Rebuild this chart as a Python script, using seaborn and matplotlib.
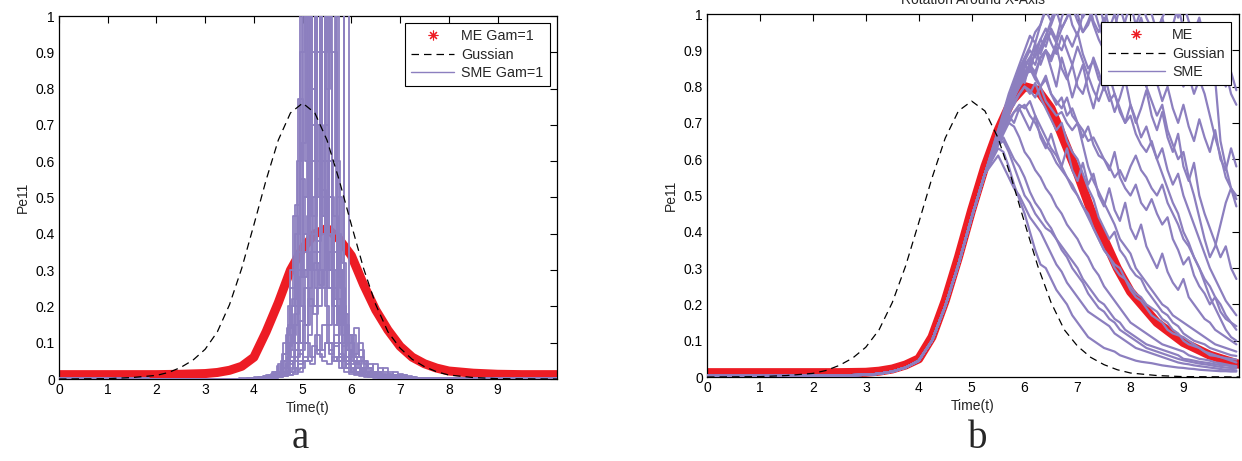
import numpy as np
import matplotlib
matplotlib.use('Agg')
import matplotlib.pyplot as plt
from matplotlib.lines import Line2D
import seaborn as sns

# ---------------- data ----------------
# ME curve (red band)
t_me_left = [0, 1, 2, 2.5, 3, 3.25, 3.5, 3.75, 4, 4.25, 4.5, 4.75, 5, 5.25, 5.5, 5.75, 6,
             6.25, 6.5, 6.75, 7, 7.25, 7.5, 7.75, 8, 8.5, 9, 9.5, 10.22]
me_left = [0.012, 0.012, 0.012, 0.013, 0.015, 0.018, 0.024, 0.035, 0.06, 0.13, 0.21, 0.30, 0.36,
           0.40, 0.415, 0.385, 0.34, 0.26, 0.19, 0.135, 0.09, 0.06, 0.042, 0.03, 0.022, 0.016,
           0.013, 0.012, 0.012]
t_me_right = [0, 1, 2, 2.5, 3, 3.25, 3.5, 3.75, 4, 4.25, 4.5, 4.75, 5, 5.25, 5.5, 5.75, 6,
              6.25, 6.5, 6.75, 7, 7.25, 7.5, 7.75, 8, 8.5, 9, 9.5, 10.05]
me_right = [0.012, 0.012, 0.012, 0.012, 0.013, 0.016, 0.022, 0.033, 0.05, 0.11, 0.21, 0.33, 0.46,
            0.58, 0.68, 0.76, 0.80, 0.79, 0.74, 0.65, 0.56, 0.46, 0.38, 0.30, 0.235, 0.15,
            0.095, 0.06, 0.035]

# Gaussian reference (dashed)
t_gauss = [0, 1, 1.5, 2, 2.25, 2.5, 2.75, 3, 3.25, 3.5, 3.75, 4, 4.25, 4.5, 4.75, 5, 5.25, 5.5,
           5.75, 6, 6.25, 6.5, 6.75, 7, 7.25, 7.5, 7.75, 8, 8.5, 9, 10.22]
gauss = [0, 0.001, 0.004, 0.01, 0.018, 0.032, 0.052, 0.082, 0.13, 0.205, 0.305, 0.425, 0.548,
         0.658, 0.733, 0.76, 0.733, 0.658, 0.548, 0.425, 0.305, 0.205, 0.13, 0.085, 0.054,
         0.034, 0.02, 0.011, 0.004, 0.001, 0]

# SME runs, left panel: 40 samples 0.1 apart, starting at sme_left_t0
sme_left_t0 = [3.6, 3.65, 3.6, 3.65, 3.6, 3.65, 3.6, 3.65, 3.6, 3.65,
               3.6, 3.65, 3.6, 3.65, 3.63, 3.67, 3.62, 3.68, 3.64, 3.66]
sme_left = [
    [0, 0, 0, 0.002, 0.003, 0.004, 0.006, 0.008, 0.012, 0.02,
     0.05, 0.12, 0.25, 0.48, 1.3, 0.6, 1.4, 0.35, 0.9, 0.2,
     0.1, 0.05, 0.03, 0.02, 0.015, 0.01, 0.008, 0.006, 0.005, 0.004,
     0.004, 0.003, 0.003, 0.002, 0.002, 0.002, 0.002, 0.002, 0.002, 0.002],
    [0, 0, 0, 0, 0.002, 0.003, 0.004, 0.005, 0.007, 0.012,
     0.03, 0.08, 0.15, 0.77, 0.3, 1.5, 0.45, 1.2, 0.5, 0.25,
     0.6, 0.15, 0.06, 0.03, 0.02, 0.015, 0.01, 0.008, 0.006, 0.005,
     0.004, 0.004, 0.003, 0.003, 0.002, 0.002, 0.002, 0.002, 0.002, 0.002],
    [0, 0, 0, 0, 0, 0.002, 0.003, 0.004, 0.006, 0.01,
     0.02, 0.05, 0.3, 0.2, 0.55, 0.4, 0.8, 1.6, 0.3, 1.2,
     0.4, 0.2, 0.1, 0.05, 0.03, 0.02, 0.015, 0.01, 0.008, 0.006,
     0.005, 0.004, 0.003, 0.003, 0.002, 0.002, 0.002, 0.002, 0.002, 0.002],
    [0, 0, 0, 0.002, 0.003, 0.005, 0.007, 0.01, 0.02, 0.04,
     0.1, 0.2, 0.45, 0.3, 0.35, 0.5, 0.3, 0.55, 0.45, 0.3,
     0.35, 0.5, 0.32, 0.1, 0.12, 0.06, 0.03, 0.02, 0.015, 0.01,
     0.008, 0.006, 0.005, 0.004, 0.003, 0.003, 0.002, 0.002, 0.002, 0.002],
    [0, 0, 0, 0, 0, 0, 0.002, 0.003, 0.004, 0.006,
     0.01, 0.015, 0.02, 0.1, 0.2, 0.15, 0.35, 0.25, 1.5, 0.35,
     0.25, 0.1, 1.3, 0.15, 0.08, 0.14, 0.06, 0.04, 0.03, 0.02,
     0.015, 0.01, 0.008, 0.006, 0.005, 0.004, 0.003, 0.002, 0.002, 0.002],
    [0, 0, 0, 0, 0, 0, 0, 0.002, 0.003, 0.005,
     0.008, 0.01, 0.015, 0.02, 0.1, 0.3, 0.2, 0.25, 0.6, 0.15,
     1.4, 0.3, 0.2, 0.08, 0.05, 0.04, 0.03, 0.02, 0.015, 0.01,
     0.008, 0.006, 0.005, 0.004, 0.003, 0.003, 0.002, 0.002, 0.002, 0.002],
    [0, 0, 0, 0, 0.002, 0.003, 0.005, 0.01, 0.015, 0.02,
     0.03, 0.04, 0.05, 0.06, 0.08, 0.1, 0.06, 0.12, 0.08, 0.1,
     0.07, 0.09, 0.06, 0.05, 0.07, 0.04, 0.05, 0.03, 0.04, 0.02,
     0.03, 0.02, 0.015, 0.02, 0.01, 0.012, 0.008, 0.006, 0.004, 0.003],
    [0, 0, 0, 0, 0, 0.002, 0.004, 0.006, 0.01, 0.015,
     0.02, 0.05, 0.03, 0.07, 0.05, 0.12, 0.2, 0.08, 0.15, 0.1,
     0.05, 0.06, 0.03, 0.04, 0.02, 0.03, 0.025, 0.02, 0.018, 0.02,
     0.015, 0.012, 0.01, 0.012, 0.008, 0.006, 0.005, 0.004, 0.003, 0.002],
    [0, 0, 0, 0, 0, 0, 0, 0.002, 0.004, 0.006,
     0.01, 0.015, 0.02, 0.025, 0.03, 0.05, 0.04, 0.08, 0.06, 0.1,
     0.08, 0.12, 0.07, 0.05, 0.1, 0.06, 0.08, 0.05, 0.03, 0.04,
     0.02, 0.03, 0.02, 0.01, 0.015, 0.01, 0.005, 0.004, 0.003, 0.002],
    [0, 0, 0, 0, 0.002, 0.004, 0.006, 0.01, 0.015, 0.03,
     0.07, 0.15, 0.1, 0.3, 1.2, 0.25, 0.4, 0.2, 0.3, 0.5,
     0.25, 0.18, 0.05, 0.04, 0.03, 0.02, 0.015, 0.01, 0.008, 0.006,
     0.005, 0.004, 0.003, 0.003, 0.002, 0.002, 0.002, 0.002, 0.002, 0.002],
    [0, 0, 0, 0, 0, 0, 0.002, 0.003, 0.005, 0.008,
     0.012, 0.02, 0.06, 0.15, 0.1, 0.3, 1.3, 0.6, 0.4, 0.7,
     0.3, 0.15, 0.1, 1.2, 0.1, 0.05, 0.03, 0.02, 0.015, 0.01,
     0.008, 0.006, 0.005, 0.004, 0.003, 0.002, 0.002, 0.002, 0.002, 0.002],
    [0, 0.002, 0.003, 0.004, 0.005, 0.006, 0.008, 0.01, 0.012, 0.015,
     0.02, 0.025, 0.03, 0.04, 0.06, 0.05, 0.09, 0.07, 0.05, 0.04,
     0.06, 0.05, 0.03, 0.04, 0.025, 0.03, 0.02, 0.025, 0.015, 0.02,
     0.012, 0.015, 0.01, 0.008, 0.01, 0.006, 0.005, 0.004, 0.003, 0.002],
    [0, 0, 0, 0, 0, 0.002, 0.003, 0.005, 0.008, 0.012,
     0.02, 0.04, 0.1, 0.4, 0.9, 1.3, 0.7, 1.1, 0.6, 1.3,
     0.5, 0.2, 0.05, 0.03, 0.02, 0.015, 0.01, 0.008, 0.006, 0.005,
     0.004, 0.003, 0.003, 0.002, 0.002, 0.002, 0.002, 0.002, 0.002, 0.002],
    [0, 0, 0, 0, 0, 0, 0, 0.002, 0.003, 0.005,
     0.008, 0.012, 0.02, 0.05, 0.5, 0.8, 1.2, 0.9, 1.4, 0.6,
     0.9, 0.3, 0.1, 0.03, 0.02, 0.015, 0.01, 0.008, 0.006, 0.005,
     0.004, 0.003, 0.003, 0.002, 0.002, 0.002, 0.002, 0.002, 0.002, 0.002],
    [0, 0, 0, 0.002, 0.003, 0.005, 0.008, 0.012, 0.02, 0.035,
     0.07, 0.14, 0.22, 0.35, 0.28, 0.45, 0.6, 0.38, 0.52, 0.4,
     0.3, 0.22, 0.12, 0.06, 0.04, 0.03, 0.02, 0.012, 0.008, 0.006,
     0.005, 0.004, 0.003, 0.003, 0.002, 0.002, 0.002, 0.002, 0.002, 0.002],
    [0, 0, 0, 0, 0.002, 0.003, 0.005, 0.008, 0.012, 0.02,
     0.05, 0.1, 0.18, 0.28, 0.4, 0.3, 0.5, 0.7, 0.45, 0.6,
     0.45, 0.28, 0.15, 0.08, 0.05, 0.03, 0.02, 0.015, 0.01, 0.008,
     0.006, 0.005, 0.004, 0.003, 0.002, 0.002, 0.002, 0.002, 0.002, 0.002],
    [0, 0, 0, 0, 0, 0.002, 0.003, 0.005, 0.008, 0.015,
     0.03, 0.06, 0.12, 0.2, 0.65, 1.3, 0.9, 0.5, 1.2, 0.8,
     1.3, 0.6, 0.25, 0.1, 0.05, 0.03, 0.02, 0.012, 0.008, 0.006,
     0.005, 0.004, 0.003, 0.003, 0.002, 0.002, 0.002, 0.002, 0.002, 0.002],
    [0, 0, 0, 0, 0, 0, 0.002, 0.004, 0.006, 0.01,
     0.02, 0.04, 0.08, 0.16, 0.25, 0.2, 0.32, 0.26, 0.4, 0.3,
     0.22, 0.3, 0.18, 0.12, 0.07, 0.1, 0.05, 0.03, 0.02, 0.015,
     0.01, 0.008, 0.006, 0.004, 0.003, 0.002, 0.002, 0.002, 0.002, 0.002],
    [0, 0, 0, 0, 0.002, 0.003, 0.005, 0.008, 0.012, 0.025,
     0.05, 0.09, 0.2, 0.6, 1.4, 0.5, 1.1, 0.7, 1.3, 0.9,
     1.2, 0.4, 0.15, 0.06, 0.03, 0.02, 0.015, 0.01, 0.008, 0.006,
     0.005, 0.004, 0.003, 0.003, 0.002, 0.002, 0.002, 0.002, 0.002, 0.002],
    [0, 0, 0, 0, 0, 0.002, 0.003, 0.004, 0.006, 0.01,
     0.015, 0.03, 0.05, 0.1, 0.15, 0.22, 0.18, 0.3, 0.25, 0.35,
     0.2, 0.15, 0.09, 0.12, 0.06, 0.04, 0.05, 0.02, 0.015, 0.01,
     0.008, 0.006, 0.005, 0.004, 0.003, 0.002, 0.002, 0.002, 0.002, 0.002],
]

# SME runs, right panel: common rise, then one tail per run sampled at 5.5, 5.6, ... 10.0
t_sme_rise = [0, 1, 2, 3, 3.25, 3.5, 3.75, 4, 4.25, 4.5, 4.75, 5, 5.25]
sme_rise = [0.003, 0.003, 0.003, 0.006, 0.009, 0.015, 0.026, 0.045, 0.1, 0.195, 0.31, 0.44, 0.56]
sme_right = [
    [0.68, 0.72, 0.77, 0.80, 0.85, 0.88, 0.91, 0.95, 0.97, 1.02,
     1.05, 1.03, 1.08, 1.10, 1.06, 1.12, 1.10, 1.15, 1.08, 1.04,
     0.97, 1.03, 1.08, 1.12, 1.06, 1.10, 1.14, 1.08, 1.12, 1.16,
     1.10, 1.15, 1.20, 1.12, 1.18, 1.15, 1.20, 1.22, 1.18, 1.25,
     1.20, 1.22, 1.28, 1.24, 1.30, 1.26],
    [0.67, 0.71, 0.74, 0.79, 0.82, 0.86, 0.84, 0.90, 0.93, 0.91,
     0.96, 0.93, 0.99, 1.03, 0.97, 0.94, 1.00, 1.04, 0.98, 0.95,
     0.99, 0.93, 0.96, 1.02, 0.97, 0.92, 0.95, 0.99, 0.94, 0.90,
     0.93, 0.97, 0.91, 0.88, 0.94, 0.90, 0.85, 0.89, 0.82, 0.78,
     0.72, 0.66, 0.61, 0.55, 0.52, 0.49],
    [0.66, 0.70, 0.73, 0.77, 0.81, 0.84, 0.86, 0.83, 0.88, 0.90,
     0.87, 0.91, 0.85, 0.82, 0.86, 0.80, 0.78, 0.83, 0.79, 0.76,
     0.80, 0.84, 0.88, 0.85, 0.90, 0.87, 0.83, 0.86, 0.80, 0.76,
     0.72, 0.75, 0.68, 0.64, 0.60, 0.62, 0.55, 0.50, 0.44, 0.38,
     0.33, 0.36, 0.42, 0.48, 0.52, 0.47],
    [0.66, 0.70, 0.74, 0.77, 0.80, 0.83, 0.85, 0.82, 0.80, 0.83,
     0.78, 0.75, 0.77, 0.72, 0.74, 0.70, 0.66, 0.69, 0.64, 0.61,
     0.60, 0.57, 0.62, 0.55, 0.52, 0.50, 0.53, 0.48, 0.46, 0.49,
     0.45, 0.42, 0.44, 0.38, 0.35, 0.31, 0.33, 0.28, 0.25, 0.23,
     0.20, 0.22, 0.18, 0.16, 0.15, 0.14],
    [0.66, 0.69, 0.72, 0.76, 0.78, 0.80, 0.78, 0.81, 0.77, 0.74,
     0.71, 0.68, 0.70, 0.65, 0.62, 0.60, 0.56, 0.52, 0.49, 0.44,
     0.41, 0.38, 0.40, 0.35, 0.33, 0.30, 0.28, 0.27, 0.24, 0.22,
     0.20, 0.18, 0.17, 0.15, 0.14, 0.12, 0.11, 0.10, 0.095, 0.09,
     0.08, 0.075, 0.07, 0.065, 0.06, 0.058],
    [0.65, 0.68, 0.70, 0.73, 0.74, 0.75, 0.72, 0.70, 0.67, 0.64,
     0.62, 0.59, 0.57, 0.55, 0.52, 0.50, 0.47, 0.45, 0.41, 0.38,
     0.35, 0.33, 0.31, 0.30, 0.27, 0.24, 0.22, 0.21, 0.19, 0.17,
     0.16, 0.15, 0.13, 0.12, 0.115, 0.11, 0.10, 0.09, 0.08, 0.07,
     0.065, 0.06, 0.055, 0.05, 0.045, 0.04],
    [0.64, 0.67, 0.70, 0.69, 0.66, 0.62, 0.60, 0.57, 0.55, 0.52,
     0.50, 0.47, 0.45, 0.42, 0.40, 0.38, 0.35, 0.33, 0.30, 0.28,
     0.25, 0.23, 0.21, 0.19, 0.17, 0.15, 0.14, 0.13, 0.12, 0.11,
     0.10, 0.09, 0.085, 0.08, 0.075, 0.07, 0.06, 0.055, 0.05, 0.048,
     0.045, 0.04, 0.038, 0.035, 0.032, 0.03],
    [0.63, 0.62, 0.58, 0.53, 0.49, 0.45, 0.40, 0.35, 0.31, 0.30,
     0.27, 0.24, 0.22, 0.20, 0.17, 0.15, 0.13, 0.11, 0.10, 0.09,
     0.08, 0.075, 0.07, 0.06, 0.055, 0.05, 0.045, 0.042, 0.04, 0.038,
     0.035, 0.032, 0.03, 0.028, 0.026, 0.025, 0.023, 0.022, 0.02, 0.019,
     0.018, 0.017, 0.016, 0.016, 0.015, 0.015],
    [0.64, 0.65, 0.62, 0.58, 0.54, 0.50, 0.48, 0.45, 0.43, 0.41,
     0.40, 0.38, 0.36, 0.34, 0.32, 0.30, 0.27, 0.25, 0.23, 0.21,
     0.20, 0.18, 0.16, 0.15, 0.13, 0.12, 0.11, 0.10, 0.09, 0.085,
     0.08, 0.075, 0.07, 0.065, 0.06, 0.05, 0.048, 0.045, 0.042, 0.04,
     0.038, 0.035, 0.033, 0.032, 0.03, 0.028],
    [0.67, 0.72, 0.76, 0.81, 0.84, 0.87, 0.86, 0.89, 0.90, 0.94,
     0.98, 1.02, 1.05, 1.01, 1.06, 1.03, 0.99, 1.02, 0.97, 0.93,
     0.90, 0.94, 0.88, 0.86, 0.84, 0.88, 0.91, 0.87, 0.93, 0.96,
     0.95, 0.99, 1.02, 1.05, 0.99, 1.03, 0.98, 0.95, 0.97, 0.92,
     0.90, 0.82, 0.65, 0.58, 0.52, 0.50],
    [0.66, 0.70, 0.73, 0.77, 0.80, 0.82, 0.85, 0.83, 0.80, 0.82,
     0.78, 0.76, 0.74, 0.77, 0.72, 0.70, 0.68, 0.65, 0.66, 0.63,
     0.60, 0.58, 0.55, 0.57, 0.54, 0.58, 0.61, 0.57, 0.55, 0.52,
     0.50, 0.53, 0.48, 0.45, 0.42, 0.38, 0.36, 0.33, 0.30, 0.26,
     0.22, 0.19, 0.16, 0.13, 0.11, 0.10],
    [0.66, 0.69, 0.73, 0.75, 0.78, 0.80, 0.79, 0.77, 0.80, 0.76,
     0.74, 0.72, 0.73, 0.70, 0.68, 0.70, 0.64, 0.58, 0.54, 0.51,
     0.48, 0.45, 0.42, 0.38, 0.36, 0.34, 0.30, 0.28, 0.26, 0.24,
     0.22, 0.20, 0.19, 0.17, 0.16, 0.15, 0.14, 0.13, 0.12, 0.11,
     0.10, 0.09, 0.085, 0.08, 0.075, 0.07],
    [0.67, 0.71, 0.75, 0.78, 0.83, 0.86, 0.88, 0.91, 0.89, 0.93,
     0.95, 0.92, 0.96, 0.99, 1.02, 0.98, 0.95, 0.97, 1.01, 1.04,
     1.06, 1.02, 1.05, 1.09, 1.03, 1.07, 1.01, 1.04, 0.99, 0.96,
     0.93, 0.90, 0.92, 0.87, 0.84, 0.80, 0.83, 0.78, 0.82, 0.86,
     0.90, 0.86, 0.81, 0.84, 0.78, 0.75],
    [0.65, 0.68, 0.71, 0.73, 0.75, 0.74, 0.76, 0.72, 0.69, 0.66,
     0.63, 0.61, 0.58, 0.55, 0.53, 0.50, 0.47, 0.44, 0.41, 0.38,
     0.35, 0.33, 0.30, 0.28, 0.27, 0.25, 0.23, 0.22, 0.20, 0.19,
     0.18, 0.16, 0.15, 0.13, 0.12, 0.10, 0.09, 0.085, 0.08, 0.07,
     0.06, 0.058, 0.055, 0.052, 0.05, 0.048],
    [0.66, 0.70, 0.74, 0.78, 0.80, 0.83, 0.86, 0.84, 0.88, 0.90,
     0.88, 0.92, 0.90, 0.94, 0.91, 0.95, 0.89, 0.85, 0.87, 0.82,
     0.80, 0.76, 0.78, 0.73, 0.70, 0.72, 0.67, 0.64, 0.62, 0.65,
     0.60, 0.56, 0.52, 0.48, 0.45, 0.40, 0.37, 0.33, 0.30, 0.27,
     0.25, 0.22, 0.20, 0.17, 0.15, 0.13],
    [0.61, 0.58, 0.55, 0.52, 0.50, 0.47, 0.44, 0.42, 0.40, 0.37,
     0.34, 0.31, 0.29, 0.26, 0.24, 0.22, 0.20, 0.18, 0.17, 0.16,
     0.15, 0.14, 0.12, 0.11, 0.10, 0.09, 0.08, 0.075, 0.07, 0.065,
     0.06, 0.055, 0.05, 0.045, 0.04, 0.037, 0.035, 0.032, 0.03, 0.028,
     0.026, 0.024, 0.022, 0.02, 0.02, 0.018],
    [0.67, 0.72, 0.75, 0.79, 0.84, 0.81, 0.87, 0.92, 0.86, 0.90,
     0.85, 0.80, 0.88, 0.83, 0.77, 0.82, 0.86, 0.79, 0.74, 0.80,
     0.84, 0.78, 0.73, 0.77, 0.82, 0.75, 0.70, 0.74, 0.79, 0.72,
     0.68, 0.73, 0.66, 0.62, 0.67, 0.58, 0.54, 0.59, 0.50, 0.45,
     0.41, 0.37, 0.33, 0.36, 0.30, 0.27],
    [0.68, 0.73, 0.78, 0.82, 0.86, 0.90, 0.94, 0.92, 0.97, 1.01,
     0.98, 1.04, 1.08, 1.02, 1.06, 1.11, 1.05, 1.09, 1.13, 1.07,
     1.02, 0.96, 1.00, 0.94, 0.98, 1.03, 0.97, 1.01, 1.06, 1.00,
     0.95, 0.99, 0.93, 0.97, 1.02, 0.96, 0.91, 0.95, 0.99, 0.93,
     0.88, 0.92, 0.86, 0.80, 0.84, 0.79],
    [0.65, 0.69, 0.72, 0.70, 0.74, 0.71, 0.68, 0.72, 0.66, 0.63,
     0.67, 0.62, 0.58, 0.63, 0.57, 0.54, 0.59, 0.53, 0.56, 0.50,
     0.47, 0.52, 0.46, 0.43, 0.48, 0.41, 0.38, 0.42, 0.36, 0.33,
     0.30, 0.34, 0.29, 0.26, 0.24, 0.27, 0.22, 0.20, 0.18, 0.16,
     0.15, 0.13, 0.12, 0.11, 0.10, 0.09],
    [0.67, 0.71, 0.76, 0.80, 0.83, 0.87, 0.90, 0.88, 0.93, 0.96,
     0.92, 0.89, 0.94, 0.90, 0.86, 0.91, 0.87, 0.83, 0.88, 0.84,
     0.79, 0.83, 0.78, 0.74, 0.70, 0.75, 0.71, 0.66, 0.69, 0.64,
     0.60, 0.63, 0.57, 0.53, 0.56, 0.50, 0.46, 0.42, 0.38, 0.34,
     0.30, 0.27, 0.24, 0.21, 0.19, 0.17],
    [0.66, 0.70, 0.74, 0.78, 0.81, 0.85, 0.88, 0.86, 0.91, 0.94,
     0.97, 1.01, 0.96, 0.99, 1.04, 1.00, 0.95, 0.98, 1.02, 0.97,
     0.93, 0.97, 0.92, 0.88, 0.92, 0.86, 0.90, 0.84, 0.80, 0.85,
     0.81, 0.76, 0.80, 0.74, 0.70, 0.75, 0.69, 0.65, 0.71, 0.66,
     0.62, 0.68, 0.60, 0.57, 0.63, 0.58],
    [0.64, 0.66, 0.63, 0.60, 0.58, 0.55, 0.51, 0.48, 0.46, 0.43,
     0.41, 0.38, 0.35, 0.33, 0.30, 0.28, 0.26, 0.23, 0.21, 0.19,
     0.18, 0.16, 0.15, 0.13, 0.12, 0.11, 0.10, 0.09, 0.08, 0.075,
     0.07, 0.065, 0.06, 0.055, 0.05, 0.046, 0.043, 0.04, 0.037, 0.035,
     0.033, 0.03, 0.028, 0.026, 0.025, 0.024],
]

yticks = [0, 0.1, 0.2, 0.3, 0.4, 0.5, 0.6, 0.7, 0.8, 0.9, 1]
ytick_labels = ['0', '0.1', '0.2', '0.3', '0.4', '0.5', '0.6', '0.7', '0.8', '0.9', '1']
xticks = [0, 1, 2, 3, 4, 5, 6, 7, 8, 9]

RED = '#ED1C24'
PURPLE = '#8C7FBF'

sns.set_style('white')
plt.rcParams['font.family'] = ['Liberation Sans', 'DejaVu Sans']

fig = plt.figure(figsize=(12.42, 4.61), dpi=100)
ax1 = fig.add_axes([59/1242, 1-379/461, (557-59)/1242, (379-16)/461])
ax2 = fig.add_axes([707/1242, 1-377/461, (1239-707)/1242, (377-14)/461])


def draw_panel(ax, t_me, me, traces_x, traces_y, xmax, labels, hlen, anchor, dstyle, lw):
    sns.lineplot(x=t_me, y=me, ax=ax, color=RED, linewidth=6.5, estimator=None, sort=False, zorder=2)
    for tx, ty in zip(traces_x, traces_y):
        sns.lineplot(x=tx, y=ty, ax=ax, color=PURPLE, linewidth=lw, estimator=None,
                     sort=False, drawstyle=dstyle, zorder=3)
    sns.lineplot(x=t_gauss, y=gauss, ax=ax, color='black', linewidth=0.9, linestyle=(0, (6, 4)),
                 estimator=None, sort=False, zorder=4)
    ax.set_xlim(0, xmax)
    ax.set_ylim(0, 1)
    ax.set_xticks(xticks)
    ax.set_yticks(yticks)
    ax.set_yticklabels(ytick_labels)
    ax.tick_params(direction='in', length=5, width=0.8, top=True, right=True,
                   labelsize=10, colors='black', pad=3)
    for sp in ax.spines.values():
        sp.set_color('black')
        sp.set_linewidth(0.9)
    ax.set_xlabel('Time(t)', fontsize=10, labelpad=3)
    ax.set_ylabel('Pe11', fontsize=10, labelpad=4)
    handles = [Line2D([], [], color=RED, marker=(8, 2, 0), linestyle='none', markersize=7,
                      markeredgewidth=0.8),
               Line2D([], [], color='black', linestyle=(0, (6, 4)), linewidth=0.9),
               Line2D([], [], color=PURPLE, linewidth=1.0)]
    leg = ax.legend(handles, labels, loc='upper right', bbox_to_anchor=anchor, fontsize=10.3,
                    frameon=True, fancybox=False, framealpha=1, edgecolor='black',
                    handlelength=hlen, labelspacing=0.3, borderaxespad=0, borderpad=0.45,
                    handletextpad=0.5)
    leg.get_frame().set_linewidth(0.8)


# left panel
lx, ly = [], []
for t0, tr in zip(sme_left_t0, sme_left):
    grid = list(np.round(t0 + 0.1*np.arange(len(tr)), 3))
    lx.append([0] + grid + [10.22])
    ly.append([0.002] + tr + [0.002])
draw_panel(ax1, t_me_left, me_left, lx, ly, 10.22, ['ME Gam=1', 'Gussian', 'SME Gam=1'],
           3.0, (0.986, 0.981), 'steps-mid', 1.3)

# right panel
rx, ry = [], []
for tr in sme_right:
    tail_t = list(np.round(5.5 + 0.1*np.arange(len(tr)), 2))
    rx.append(t_sme_rise + tail_t)
    ry.append(sme_rise + tr)
draw_panel(ax2, t_me_right, me_right, rx, ry, 10.05, ['ME', 'Gussian', 'SME'],
           4.0, (0.985, 0.978), 'default', 1.6)
ax2.set_title('Rotation Around X-Axis', fontsize=10, pad=7)

fig.text(300/1242, 1-448/461, 'a', fontsize=28, family='Liberation Serif', ha='center', va='baseline')
fig.text(978/1242, 1-448/461, 'b', fontsize=28, family='Liberation Serif', ha='center', va='baseline')

fig.savefig('out.png', dpi=100)
